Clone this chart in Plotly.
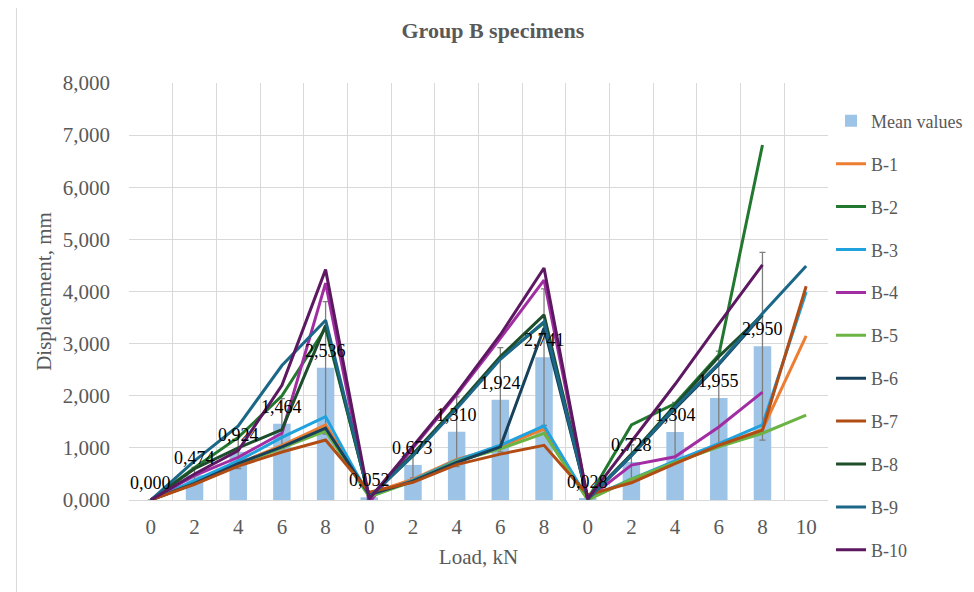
import plotly.graph_objects as go

# ---------------- data ----------------
tick_labels = ["0", "2", "4", "6", "8", "0", "2", "4", "6", "8",
               "0", "2", "4", "6", "8", "10"]
x_idx = list(range(len(tick_labels)))

mean_values = [0.000, 0.474, 0.924, 1.464, 2.536, 0.052, 0.673, 1.310, 1.924, 2.741,
               0.028, 0.728, 1.304, 1.955, 2.950, None]
mean_err = [0.0, 0.15, 0.32, 0.48, 1.27, 0.05, 0.25, 0.67, 1.00, 1.31,
            0.05, 0.33, 0.57, 0.90, 1.80, None]

B1 = [0, 0.32, 0.70, 1.05, 1.44, 0.12, 0.40, 0.78, 1.02, 1.36, 0.03, 0.38, 0.72, 1.05, 1.35, 3.15]
B2 = [0, 0.62, 1.20, 2.00, 3.30, 0.05, 0.85, 1.78, 2.72, 3.40, 0.02, 1.44, 1.85, 2.78, 6.81, None]
B3 = [0, 0.38, 0.75, 1.20, 1.60, 0.06, 0.38, 0.76, 1.05, 1.42, 0.03, 0.40, 0.75, 1.08, 1.44, 3.99]
B4 = [0, 0.47, 0.82, 1.28, 4.16, -0.05, 1.00, 2.02, 3.10, 4.22, 0.02, 0.67, 0.83, 1.40, 2.07, None]
B5 = [0, 0.32, 0.68, 1.00, 1.32, 0.06, 0.36, 0.74, 0.98, 1.28, 0.00, 0.40, 0.72, 1.02, 1.28, 1.63]
B6 = [0, 0.32, 0.70, 1.02, 1.38, 0.10, 0.36, 0.72, 1.02, 3.30, 0.02, 0.85, 1.75, 2.60, 3.55, None]
B7 = [0, 0.30, 0.65, 0.92, 1.15, 0.15, 0.34, 0.68, 0.88, 1.05, 0.10, 0.33, 0.70, 1.05, 1.34, 4.10]
B8 = [0, 0.60, 1.00, 1.35, 3.35, 0.05, 0.88, 1.80, 2.75, 3.55, 0.02, 0.88, 1.82, 2.75, 3.55, None]
B9 = [0, 0.75, 1.42, 2.58, 3.45, 0.05, 0.85, 1.75, 2.70, 3.42, 0.02, 0.85, 1.78, 2.62, 3.58, 4.49]
B10 = [0, 0.50, 0.95, 2.20, 4.42, 0.02, 1.03, 2.05, 3.17, 4.45, 0.02, 1.12, 2.22, 3.38, 4.51, None]

series_names = ["B-1", "B-2", "B-3", "B-4", "B-5", "B-6", "B-7", "B-8", "B-9", "B-10"]
series_values = [B1, B2, B3, B4, B5, B6, B7, B8, B9, B10]
series_colors = ["#ED7D31", "#23782F", "#1FA2DD", "#A22DA3", "#6BB443",
                 "#17405A", "#B04C14", "#1E4D2B", "#1B6787", "#5C1860"]

# ---------------- figure ----------------
FONT = "Liberation Serif"
GRAY = "#595959"
GRID = "#D9D9D9"

fig = go.Figure()

fig.add_trace(go.Bar(
    x=x_idx, y=mean_values, name="Mean values",
    width=0.4, marker=dict(color="#9DC3E6", line=dict(width=0)),
    error_y=dict(type="data", array=mean_err, visible=True,
                 color="#7F7F7F", thickness=1.3, width=3),
    legendgroup="mean",
))

for name, vals, col in zip(series_names, series_values, series_colors):
    fig.add_trace(go.Scatter(
        x=x_idx, y=vals, name=name, mode="lines",
        line=dict(color=col, width=3), connectgaps=False,
        legendgroup=name,
    ))

# data labels of the mean values (above each bar)
for xi, v in zip(x_idx, mean_values):
    if v is None:
        continue
    fig.add_annotation(
        x=xi, y=v, xref="x", yref="y",
        text=f"{v:.3f}".replace(".", ","),
        showarrow=False, yanchor="middle", yshift=17,
        font=dict(family=FONT, size=18, color="#000000"),
    )

fig.update_layout(
    width=966, height=584,
    margin=dict(l=121, r=146, t=75, b=92, autoexpand=False),
    paper_bgcolor="white", plot_bgcolor="white",
    separators=",.",
    font=dict(family=FONT, color=GRAY),
    title=dict(text="<b>Group B specimens</b>", x=0.502, xanchor="center",
               y=0.962, yanchor="middle",
               font=dict(family=FONT, size=22, color=GRAY)),
    showlegend=True,
    legend=dict(xref="container", x=0.852, xanchor="left", y=0.953, yanchor="top",
                font=dict(family=FONT, size=18, color=GRAY),
                tracegroupgap=16.5, itemwidth=30, maxheight=560,
                bgcolor="rgba(0,0,0,0)"),
    bargap=0.6,
)

fig.update_xaxes(
    range=[-0.5, 15.5],
    tickmode="array", tickvals=x_idx, ticktext=tick_labels,
    showgrid=False, zeroline=False, showline=True, linecolor=GRID, linewidth=1,
    ticks="", ticklabelstandoff=8,
    tickfont=dict(family=FONT, size=21, color=GRAY),
    minor=dict(tickmode="array", tickvals=[v - 0.5 for v in range(17)],
               showgrid=True, gridcolor=GRID, gridwidth=1, ticks=""),
    title=dict(text="Load, kN", font=dict(family=FONT, size=21, color=GRAY), standoff=11),
)

fig.update_yaxes(
    range=[0, 8], dtick=1, tickformat=".3f",
    showgrid=True, gridcolor=GRID, gridwidth=1, zeroline=False,
    showline=False, ticks="", ticklabelstandoff=18,
    tickfont=dict(family=FONT, size=21, color=GRAY),
    title=dict(text="Displacement, mm", font=dict(family=FONT, size=21, color=GRAY), standoff=5),
)

# chart-area border (left edge visible)
fig.add_shape(type="rect", xref="paper", yref="paper",
              x0=-0.161, x1=1.25, y0=-0.25, y1=1.22,
              line=dict(color=GRID, width=1), fillcolor="rgba(0,0,0,0)", layer="below")

fig.write_html("out.html")
